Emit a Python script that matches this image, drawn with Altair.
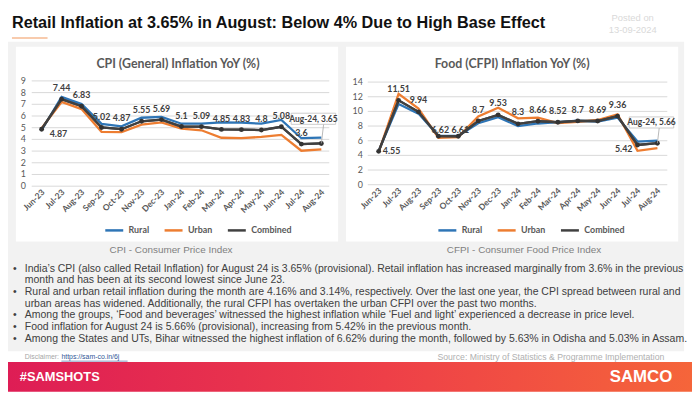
import altair as alt
import pandas as pd

# ---------------- data ----------------
months = ["Jun-23", "Jul-23", "Aug-23", "Sep-23", "Oct-23", "Nov-23", "Dec-23", "Jan-24",
          "Feb-24", "Mar-24", "Apr-24", "May-24", "Jun-24", "Jul-24", "Aug-24"]
series_names = ["Rural", "Urban", "Combined"]
series_colors = ["#2e75b6", "#ed7d31", "#404040"]

cpi_rural = [4.78, 7.63, 7.02, 5.33, 5.12, 5.85, 5.93, 5.34, 5.34, 5.45, 5.43, 5.34, 5.66, 4.10, 4.16]
cpi_urban = [4.96, 7.20, 6.59, 4.65, 4.62, 5.26, 5.46, 4.92, 4.78, 4.14, 4.11, 4.21, 4.39, 3.03, 3.14]
cpi_combined = [4.87, 7.44, 6.83, 5.02, 4.87, 5.55, 5.69, 5.10, 5.09, 4.85, 4.83, 4.80, 5.08, 3.60, 3.65]

cfpi_rural = [4.63, 11.0, 9.7, 6.65, 6.65, 8.38, 9.2, 8.0, 8.35, 8.55, 8.75, 8.62, 9.15, 5.89, 6.02]
cfpi_urban = [4.45, 12.4, 10.4, 6.4, 6.5, 9.3, 10.5, 9.05, 9.15, 8.41, 8.56, 8.83, 9.6, 4.63, 4.99]
cfpi_combined = [4.55, 11.51, 9.94, 6.62, 6.61, 8.70, 9.53, 8.30, 8.66, 8.52, 8.70, 8.69, 9.36, 5.42, 5.66]

cpi_ticks = [0, 1, 2, 3, 4, 5, 6, 7, 8, 9]
cfpi_ticks = [0, 2, 4, 6, 8, 10, 12, 14]

header_title = "Retail Inflation at 3.65% in August: Below 4% Due to High Base Effect"
posted = ["Posted on", "13-09-2024"]
cpi_title = "CPI (General) Inflation YoY (%)"
cfpi_title = "Food (CFPI) Inflation YoY (%)"
cpi_caption = "CPI - Consumer Price Index"
cfpi_caption = "CFPI - Consumer Food Price Index"

notes = [
    "India\u2019s CPI (also called Retail Inflation) for August 24 is 3.65% (provisional). Retail inflation has increased marginally from 3.6% in the previous",
    "month and has been at its second lowest since June 23.",
    "Rural and urban retail inflation during the month are 4.16% and 3.14%, respectively. Over the last one year, the CPI spread between rural and",
    "urban areas has widened. Additionally, the rural CFPI has overtaken the urban CFPI over the past two months.",
    "Among the groups, \u2018Food and beverages\u2019 witnessed the highest inflation while \u2018Fuel and light\u2019 experienced a decrease in price level.",
    "Food inflation for August 24 is 5.66% (provisional), increasing from 5.42% in the previous month.",
    "Among the States and UTs, Bihar witnessed the highest inflation of 6.62% during the month, followed by 5.63% in Odisha and 5.03% in Assam.",
]
bullet_rows = [0, 2, 4, 5, 6]

disclaimer_label = "Disclaimer:"
disclaimer_url = "https://sam-co.in/6j"
source_text = "Source: Ministry of Statistics & Programme Implementation"
brand_left = "#SAMSHOTS"
brand_right = "SAMCO"

FONT = "Lato"
ARIAL = "Liberation Sans, Arial, sans-serif"


def long_df(r, u, c):
    rows = []
    for name, vals in zip(series_names, [r, u, c]):
        for m, v in zip(months, vals):
            rows.append({"month": m, "series": name, "value": v, "label": f"{v:g}"})
    return pd.DataFrame(rows)


def panel(df, ticks, xrange, yrange, grid_x, ylab_x, legend_xy, label_groups, callout_off):
    xs = alt.Scale(domain=months, range=xrange, padding=0)
    ys = alt.Scale(domain=[ticks[0], ticks[-1]], range=yrange, nice=False, zero=False)
    X = alt.X("month:N", sort=months, scale=xs, axis=None)
    Y = alt.Y("value:Q", scale=ys, axis=None)
    tick_df = pd.DataFrame({"value": ticks})
    month_df = pd.DataFrame({"month": months})
    comb = df[df.series == "Combined"]

    layers = []
    layers.append(alt.Chart(tick_df).mark_rule(color="#d9d9d9", strokeWidth=1).encode(
        y=Y, x=alt.value(grid_x[0]), x2=alt.value(grid_x[1])))
    layers.append(alt.Chart(tick_df).mark_text(
        align="right", baseline="middle", font=FONT, fontSize=9, color="#595959").encode(
        y=Y, x=alt.value(ylab_x), text="value:Q"))
    layers.append(alt.Chart(month_df).mark_text(
        angle=315, align="right", baseline="middle", font=FONT, fontSize=8.5,
        fontWeight="bold", color="#595959", dx=2).encode(
        x=X, y=alt.value(yrange[0] + 6), text="month:N"))
    layers.append(alt.Chart(df).mark_line(strokeWidth=2.3).encode(
        x=X, y=Y,
        color=alt.Color("series:N", sort=series_names,
                        scale=alt.Scale(domain=series_names, range=series_colors),
                        legend=alt.Legend(orient="none", legendX=legend_xy[0], legendY=legend_xy[1],
                                          direction="horizontal", title=None, symbolType="stroke",
                                          symbolStrokeWidth=2.5, symbolSize=330, labelFont=FONT,
                                          labelFontSize=9, labelFontWeight="bold",
                                          labelColor="#595959", columnPadding=10, labelOffset=4,
                                          padding=0))))
    layers.append(alt.Chart(comb).mark_line(strokeWidth=2.3, color="#404040").encode(x=X, y=Y))
    layers.append(alt.Chart(comb).mark_circle(size=24, color="#333333", opacity=1).encode(x=X, y=Y))
    for sel, dx, dy in label_groups:
        layers.append(alt.Chart(comb[comb.month.isin(sel)]).mark_text(
            dx=dx, dy=dy, font=FONT, fontSize=9, fontWeight="bold", color="#404040").encode(
            x=X, y=Y, text="label:N"))
    last = comb[comb.month == months[-1]].copy()
    last["callout"] = last["month"] + ", " + last["label"]
    ox, oy = callout_off
    layers.append(alt.Chart(last).mark_point(
        shape="M0,0L0.12,-1", size=(2 * (abs(oy) - 4)) ** 2, filled=False, color="#a6a6a6",
        strokeWidth=0.8, opacity=1).encode(x=X, y=Y))
    layers.append(alt.Chart(last).mark_point(
        shape="M-1,-0.25L1,-0.25L1,0.25L-1,0.25Z", size=2025, filled=True, fill="white",
        stroke="#bfbfbf", strokeWidth=0.8, opacity=1, xOffset=ox, yOffset=oy).encode(x=X, y=Y))
    layers.append(alt.Chart(last).mark_text(
        dx=ox, dy=oy, font=FONT, fontSize=8.5, fontWeight="bold", color="#404040").encode(
        x=X, y=Y, text="callout:N"))
    return alt.layer(*layers)


cpi_df = long_df(cpi_rural, cpi_urban, cpi_combined)
cfpi_df = long_df(cfpi_rural, cfpi_urban, cfpi_combined)

left = panel(cpi_df, cpi_ticks, [34, 317], [178, 71.5], [24, 325], 18, (97, 212),
             [(months[1:-1], 0, -11), (months[:1], 17, 5)], (-8, -25))
right = panel(cfpi_df, cfpi_ticks, [375, 657], [176.5, 72.7], [364, 667], 359, (434, 212),
              [([m for m in months[1:-2] if m not in ("Sep-23", "Oct-23")], 0, -11.5),
               (["Sep-23", "Oct-23"], 2, -6), (months[:1], 13, 0), (months[-2:-1], -14, 4)],
              (-6, -21))

base = pd.DataFrame({"k": [0]})


def rect(x, x2, y, y2, **kw):
    return alt.Chart(base).mark_rect(**kw).encode(
        x=alt.value(x), x2=alt.value(x2), y=alt.value(y), y2=alt.value(y2))


def text(t, x, y, **kw):
    return alt.Chart(base).mark_text(text=t, **kw).encode(x=alt.value(x), y=alt.value(y))


LINE_H = 11.8
NOTES_TOP = 256.5

decor_back = [
    rect(0, 692, 0, 386, color="white"),
    rect(0, 684, 32, 345, color="#f2f2f2"),
    rect(8, 334, 37, 234, color="white"),
    rect(342, 678, 37, 234, color="white"),
    text(header_title, 4, 13, align="left", baseline="middle", font=ARIAL, fontSize=16.4,
         fontWeight="bold", color="#111111"),
    alt.Chart(base).mark_rule(color="#f8cbad", strokeWidth=2).encode(
        x=alt.value(4), x2=alt.value(40), y=alt.value(28)),
    text(posted, 632, 8, align="center", baseline="middle", font=ARIAL, fontSize=9.5,
         color="#d9d9d9", lineHeight=12),
    text(cpi_title, 172, 54, align="center", baseline="middle", font=FONT, fontSize=12.5,
         fontWeight="bold", color="#595959"),
    text(cfpi_title, 510, 54, align="center", baseline="middle", font=FONT, fontSize=12.5,
         fontWeight="bold", color="#595959"),
    text(cpi_caption, 165, 243, align="center", baseline="middle", font=ARIAL, fontSize=10,
         color="#7f7f7f"),
    text(cfpi_caption, 522, 243, align="center", baseline="middle", font=ARIAL, fontSize=10,
         color="#7f7f7f"),
]

bullet_marks = [
    text("\u2022", 5, NOTES_TOP + r * LINE_H, align="left", baseline="top", font=ARIAL,
         fontSize=10.6, color="#404040")
    for r in bullet_rows
]

decor_front = bullet_marks + [
    text(notes, 17, NOTES_TOP, align="left", baseline="top", font=ARIAL, fontSize=10.6,
         color="#404040", lineHeight=LINE_H),
    text(disclaimer_label, 17, 351, align="left", baseline="middle", font=ARIAL, fontSize=7,
         color="#a6a6a6"),
    text(disclaimer_url, 54, 351, align="left", baseline="middle", font=ARIAL, fontSize=7,
         color="#2f5597"),
    alt.Chart(base).mark_rule(color="#2f5597", strokeWidth=0.6).encode(
        x=alt.value(54), x2=alt.value(121), y=alt.value(355)),
    text(source_text, 664, 351, align="right", baseline="middle", font=ARIAL, fontSize=8.8,
         color="#b0b0b0"),
    rect(0, 692, 356, 386, fill={"gradient": "linear", "x1": 0, "x2": 1, "y1": 0, "y2": 0,
                                 "stops": [{"offset": 0, "color": "#de1d55"},
                                           {"offset": 0.55, "color": "#ee3f48"},
                                           {"offset": 1, "color": "#f5653a"}]}),
    text(brand_left, 12, 371, align="left", baseline="middle", font=ARIAL, fontSize=13,
         fontWeight="bold", color="white"),
    text(brand_right, 672, 371, align="right", baseline="middle", font=ARIAL, fontSize=17,
         fontWeight="bold", color="white"),
]

chart = alt.layer(*decor_back, left, right, *decor_front).resolve_scale(
    x="independent", y="independent", color="independent"
).properties(
    width=692, height=386, autosize=alt.AutoSizeParams(type="none"), padding=0
).configure_view(stroke=None)

chart.save("out.html", embed_options={"renderer": "svg", "actions": False})
